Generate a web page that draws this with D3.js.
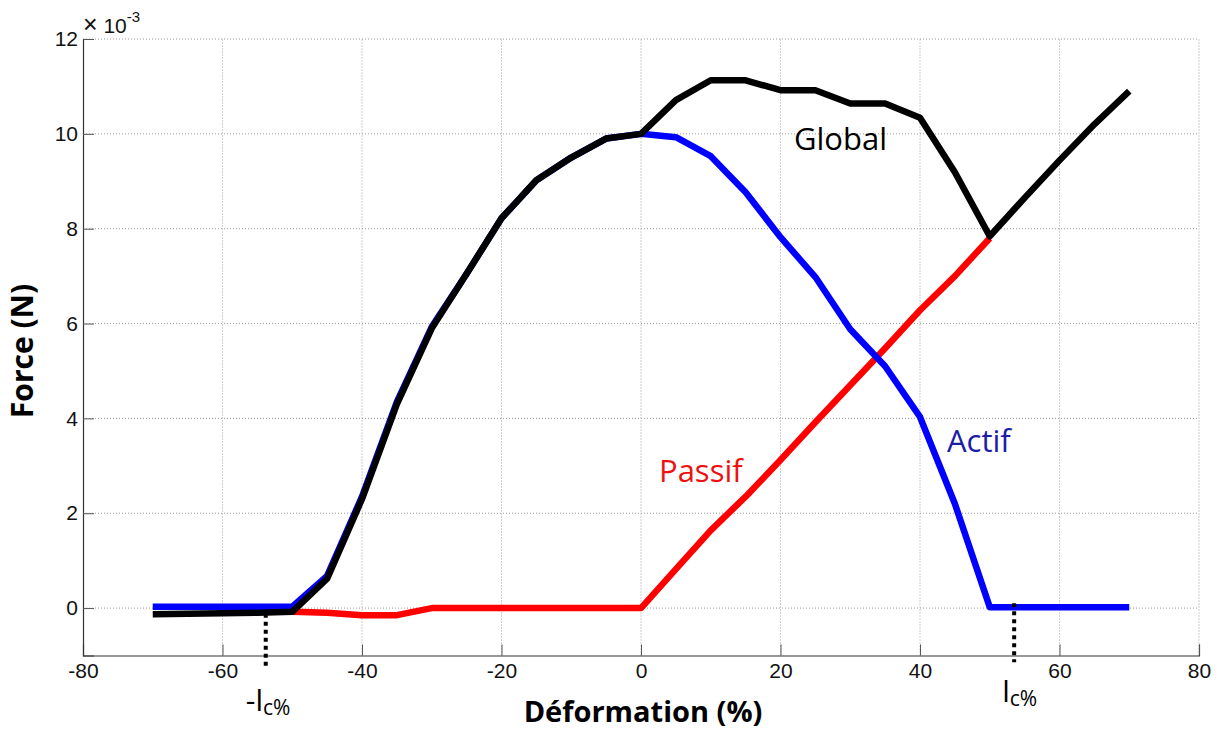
<!DOCTYPE html>
<html>
<head>
<meta charset="utf-8">
<script src="https://cdn.jsdelivr.net/npm/d3@7"></script>
<style>
  body { margin: 0; background: #fff; }
  svg { display: block; }
  .tick text { font-family: "Liberation Sans", Arial, sans-serif; font-size: 21px; fill: #111; }
  .axis-title { font-family: "Open Sans", sans-serif; font-weight: bold; fill: #000; }
  .note { font-family: "Open Sans", sans-serif; }
  .expo { font-family: "Liberation Sans", Arial, sans-serif; fill: #111; }
</style>
</head>
<body>
<div id="chart"></div>
<script>
// Déformation (%) – un point tous les 5 %
const deformation = [-70, -65, -60, -55, -50, -45, -40, -35, -30, -25, -20, -15, -10, -5, 0,
                     5, 10, 15, 20, 25, 30, 35, 40, 45, 50, 55, 60, 65, 70];

// Force (x 10^-3 N)
const forceGlobal = [-0.13, -0.12, -0.11, -0.10, -0.08, 0.62, 2.30, 4.30, 5.90, 7.05, 8.22, 9.02, 9.50, 9.90, 10.00,
                     10.71, 11.13, 11.13, 10.92, 10.92, 10.64, 10.64, 10.34, 9.19, 7.84, 8.65, 9.44, 10.20, 10.90];

const forceActif = [0.03, 0.03, 0.03, 0.03, 0.03, 0.68, 2.35, 4.35, 5.93, 7.05, 8.22, 9.02, 9.50, 9.90, 10.00,
                    9.93, 9.53, 8.77, 7.82, 6.98, 5.88, 5.10, 4.03, 2.20, 0.02, 0.02, 0.02, 0.02, 0.02];

// Passif : défini de -50 à 50 seulement
const deformationPassif = [-50, -45, -40, -35, -30, -25, -20, -15, -10, -5, 0,
                           5, 10, 15, 20, 25, 30, 35, 40, 45, 50];
const forcePassif = [-0.08, -0.10, -0.15, -0.15, 0.00, 0.00, 0.00, 0.00, 0.00, 0.00, 0.00,
                     0.82, 1.64, 2.35, 3.12, 3.92, 4.70, 5.48, 6.28, 7.00, 7.80];

// Repères ±lc%
const lcPositions = [-53.8, 53.5];

const xTicks = [-80, -60, -40, -20, 0, 20, 40, 60, 80];
const yTicks = [0, 2, 4, 6, 8, 10, 12];

const width = 1219;
const height = 731;

const svg = d3.select("#chart")
    .append("svg")
    .attr("width", width)
    .attr("height", height);

const x = d3.scaleLinear().domain([-80, 80]).range([83, 1199]);
const y = d3.scaleLinear().domain([-1, 12]).range([655.5, 39]);

// Grille pointillée
const grid = svg.append("g").attr("stroke", "#9a9a9a").attr("stroke-width", 1)
    .attr("stroke-dasharray", "1,2");
grid.selectAll(".gx").data(xTicks.slice(1))
    .enter().append("line")
    .attr("x1", d => x(d)).attr("x2", d => x(d))
    .attr("y1", y(-1)).attr("y2", y(12));
grid.selectAll(".gy").data(yTicks)
    .enter().append("line")
    .attr("x1", x(-80)).attr("x2", x(80))
    .attr("y1", d => y(d)).attr("y2", d => y(d));

// Axes (ticks vers l'intérieur, façon MATLAB)
const xAxis = d3.axisBottom(x).tickValues(xTicks).tickSize(-11).tickPadding(16)
    .tickFormat(d => String(d));
const yAxis = d3.axisLeft(y).tickValues(yTicks).tickSize(-11).tickPadding(16)
    .tickFormat(d => String(d));

const gx = svg.append("g").attr("transform", `translate(0,${y(-1)})`).call(xAxis);
const gy = svg.append("g").attr("transform", `translate(${x(-80)},0)`).call(yAxis);
[gx, gy].forEach(g => {
    g.select(".domain").attr("stroke", "#333").attr("stroke-width", 1.2);
    g.selectAll(".tick line").attr("stroke", "#555");
});
gy.selectAll(".tick text").attr("dx", "11px");
gx.selectAll(".tick text").attr("dy", "1.05em").attr("y", 0);

// Facteur d'échelle
const expo = svg.append("text")
    .attr("class", "expo")
    .attr("x", x(-80))
    .attr("y", 33)
    .style("font-size", "21px");
expo.append("tspan").style("font-size", "25px").text("×");
expo.append("tspan").text(" 10");
expo.append("tspan").style("font-size", "15px").attr("dy", -11).text("-3");

// Courbes
const line = d3.line()
    .x(d => x(d[0]))
    .y(d => y(d[1]));

const series = [
    { name: "Passif", xs: deformationPassif, ys: forcePassif, color: "#ff0000" },
    { name: "Actif", xs: deformation, ys: forceActif, color: "#0000ff" },
    { name: "Global", xs: deformation, ys: forceGlobal, color: "#000000" }
];

series.forEach(s => {
    svg.append("path")
        .datum(s.xs.map((v, i) => [v, s.ys[i]]))
        .attr("fill", "none")
        .attr("stroke", s.color)
        .attr("stroke-width", 6.5)
        .attr("stroke-linejoin", "round")
        .attr("d", line);
});

// Repères pointillés ±lc%
svg.selectAll(".lc")
    .data(lcPositions)
    .enter().append("line")
    .attr("x1", d => x(d)).attr("x2", d => x(d))
    .attr("y1", d => d < 0 ? y(-0.12) : y(0.1))
    .attr("y2", d => d < 0 ? y(-1.24) : y(-1.14))
    .attr("stroke", "#000")
    .attr("stroke-width", 4)
    .attr("stroke-dasharray", "4,4");

function lcLabel(px, py, prefix) {
    const t = svg.append("text")
        .attr("class", "note")
        .attr("x", px)
        .attr("y", py)
        .attr("font-size", 30)
        .attr("fill", "#000");
    t.append("tspan").text(prefix + "l");
    t.append("tspan").attr("font-size", 21).attr("dy", 4).text("c%");
}
lcLabel(x(lcPositions[0]) - 20, 711, "-");
lcLabel(x(lcPositions[1]) - 12, 702, "");

// Titres des axes
svg.append("text")
    .attr("class", "axis-title")
    .attr("x", 643)
    .attr("y", 722)
    .attr("text-anchor", "middle")
    .attr("font-size", 29)
    .text("Déformation (%)");

svg.append("text")
    .attr("class", "axis-title")
    .attr("transform", "translate(33,351) rotate(-90)")
    .attr("text-anchor", "middle")
    .attr("font-size", 30)
    .text("Force (N)");

// Étiquettes des courbes
const notes = [
    { text: "Global", x: 794, y: 150, color: "#000000" },
    { text: "Passif", x: 659, y: 482, color: "#ee1111" },
    { text: "Actif", x: 947, y: 452, color: "#1c1ca8" }
];
svg.selectAll(".lbl")
    .data(notes)
    .enter().append("text")
    .attr("class", "note")
    .attr("x", d => d.x)
    .attr("y", d => d.y)
    .attr("font-size", 31)
    .attr("fill", d => d.color)
    .text(d => d.text);
</script>
</body>
</html>
